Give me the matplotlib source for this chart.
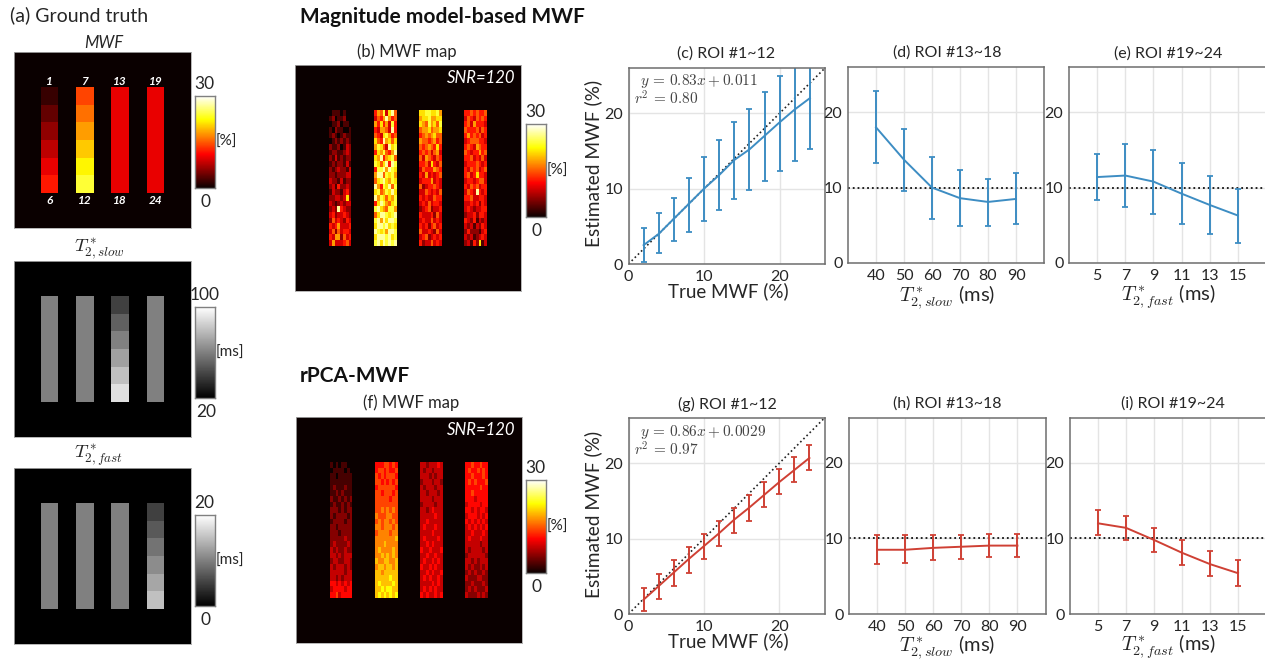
#!/usr/bin/env python3
"""Ground truth maps, MWF maps and ROI plots for the two methods."""
import numpy as np
import matplotlib
matplotlib.use("Agg")
import matplotlib.pyplot as plt

W, H = 1265, 662
BLUE = "#3d8dc3"
RED = "#cf4034"
GRAY = "#6e6e6e"
TXT = "#262626"

plt.rcParams.update({"font.family": ["Lato", "DejaVu Sans"], "mathtext.fontset": "cm",
                     "font.size": 10.5, "text.color": TXT})

# ground truth, one list per column of phantom (top to bottom)
GT_MWF = [[2, 4, 6, 8, 10, 12], [14, 16, 18, 20, 22, 24],
          [10, 10, 10, 10, 10, 10], [10, 10, 10, 10, 10, 10]]
GT_SLOW = [[60] * 6, [60] * 6, [40, 50, 60, 70, 80, 90], [60] * 6]
GT_FAST = [[10] * 6, [10] * 6, [10] * 6, [5, 7, 9, 11, 13, 15]]
ROI_TOP = ["1", "7", "13", "19"]
ROI_BOTTOM = ["6", "12", "18", "24"]

# estimated maps read by eye, digits scaled to MWF in est_image
MAP_B = [
    ["01110100", "12011200", "01120110", "10211001", "12101211", "01212121",
     "21120132", "12211232", "21312122", "12122131", "21232213", "22122233",
     "32213122", "23142232", "13221342", "22332372", "32123233", "23294322",
     "34233432", "25343243", "43463334", "35253443", "43662534", "36333453"],
    ["46583795", "35469645", "64746384", "43665394", "54378645", "75496757",
     "68753978", "47685469", "76946785", "87579498", "48896987", "69958786",
     "57897687", "96487958", "78568797", "96875768", "47986578", "89765886",
     "57998789", "89697998", "79989787", "98786998", "79998978", "89798989"],
    ["77887786", "67786677", "76586758", "56675667", "45656755", "65545645",
     "54565474", "45453563", "53654354", "44537435", "35444654", "43634345",
     "34446343", "52344543", "33543435", "43433544", "34353443", "23452334",
     "43334253", "34335343", "43424534", "53343253", "34523434", "42335343"],
    ["44545445", "35435454", "45364443", "54445354", "46454534", "34555443",
     "45436544", "54344645", "44534353", "34445434", "43545345", "45347443",
     "34434553", "43545344", "35439434", "44533443", "33434243", "34323344",
     "23342443", "43241323", "32313243", "24222134", "32312343", "23142713"],
]
MAP_F = [
    ["10101100", "01111010", "11011111", "11111111", "12111211", "11212111",
     "21121212", "12112121", "22212122", "21222212", "12222122", "22122222",
     "22212222", "22222322", "23222232", "32322322", "33232333", "23322332",
     "32333232", "33333233", "33232333", "44343434", "34444344", "44534444"],
    ["44455454", "45545445", "54545554", "55454545", "45555554", "55455545",
     "55555455", "55555555", "55656565", "65556655", "56566565", "66566656",
     "56666566", "66666667", "66676666", "67666676", "66767676", "76677667",
     "67767767", "77677777", "77777877", "78777787", "77878877", "78787878"],
    ["33233343", "32332333", "33323233", "23332332", "32333233", "33233323",
     "33332333", "23333233", "33234333", "33333433", "33433333", "34333433",
     "33334333", "34333343", "33434333", "43343334", "33433433", "34334343",
     "43343433", "33434334", "34343343", "33334343", "34343433", "43433434"],
    ["44544544", "45445454", "44544454", "45454445", "44444544", "44544444",
     "44434444", "34444344", "44343443", "34443434", "43434343", "34343434",
     "33433343", "34333433", "33333233", "32333323", "23333332", "33232333",
     "32322323", "23232232", "32223322", "22322232", "23232223", "32223232"],
]

# ROI plots
TRUE_MWF = [2, 4, 6, 8, 10, 12, 14, 16, 18, 20, 22, 24]
T2_SLOW = [40, 50, 60, 70, 80, 90]
T2_FAST = [5, 7, 9, 11, 13, 15]

C_MEAN = [2.5, 4, 6, 8, 10, 11.8, 13.8, 15.2, 17, 18.8, 20.5, 22]
C_LOW = [0.2, 1.5, 3, 4.3, 5.7, 7.1, 8.6, 9.8, 11, 12.4, 13.7, 15.2]
C_UP = [4.8, 6.8, 8.8, 11.4, 14.2, 16.5, 18.8, 20.5, 22.8, 25, 27.3, 28.8]
D_MEAN = [18, 13.7, 10, 8.6, 8.1, 8.5]
D_LOW = [13.3, 9.5, 5.8, 4.9, 4.9, 5.2]
D_UP = [22.8, 17.8, 14, 12.3, 11.2, 11.9]
E_MEAN = [11.4, 11.6, 10.8, 9.2, 7.7, 6.3]
E_LOW = [8.3, 7.4, 6.5, 5.2, 3.9, 2.7]
E_UP = [14.4, 15.8, 15, 13.3, 11.5, 9.8]

G_MEAN = [1.9, 3.7, 5.5, 7.3, 9, 10.7, 12.5, 14.1, 15.8, 17.5, 19.1, 20.7]
G_LOW = [0.4, 2, 3.7, 5.5, 7.3, 9, 10.8, 12.4, 14.2, 15.9, 17.5, 19.1]
G_UP = [3.4, 5.3, 7.1, 8.9, 10.6, 12.3, 14.1, 15.8, 17.5, 19.2, 20.8, 22.4]
H_MEAN = [8.5, 8.5, 8.75, 8.9, 9.05, 9.05]
H_LOW = [6.6, 6.7, 7.1, 7.3, 7.5, 7.5]
H_UP = [10.5, 10.4, 10.5, 10.5, 10.6, 10.6]
I_MEAN = [12, 11.4, 9.8, 8.1, 6.6, 5.4]
I_LOW = [10.4, 9.8, 8.2, 6.5, 5, 3.7]
I_UP = [13.7, 13, 11.4, 9.8, 8.3, 7.1]

fig = plt.figure(figsize=(W / 100, H / 100), dpi=100)


def px_axes(x0, y0, x1, y1):
    return fig.add_axes([x0 / W, 1 - y1 / H, (x1 - x0) / W, (y1 - y0) / H])


def label(x, y, s, **kw):
    kw.setdefault("ha", "center")
    kw.setdefault("va", "center")
    fig.text(x / W, 1 - y / H, s, **kw)


def gt_image(cols):
    # phantom is 100x100: strips 10 wide, every 20, ROIs 10 high
    img = np.zeros((100, 100))
    for c, vals in enumerate(cols):
        img[20:80, 15 + 20 * c:25 + 20 * c] = np.repeat(vals, 10)[:, None]
    return img


def est_image(strips, scale):
    # same layout on an 80x80 grid, digits are 2 rows high
    img = np.zeros((80, 80))
    for c, rows in enumerate(strips):
        vals = np.array([[int(ch) * scale for ch in r] for r in rows], dtype=float)
        img[16:64, 12 + 16 * c:20 + 16 * c] = np.repeat(vals, 2, axis=0)
    return img


def show_map(box, img, cmap, vmin, vmax):
    ax = px_axes(*box)
    ax.imshow(img, cmap=cmap, vmin=vmin, vmax=vmax, aspect="auto", interpolation="nearest")
    ax.set_xticks([])
    ax.set_yticks([])
    for s in ax.spines.values():
        s.set_color("#aaaaaa")
        s.set_linewidth(0.6)
    return ax


def colorbar(box, cmap, top, bottom, unit):
    ax = show_map(box, np.linspace(1, 0, 256)[:, None], cmap, 0, 1)
    for s in ax.spines.values():
        s.set_color("#808080")
        s.set_linewidth(1)
    x0, y0, x1, y1 = box
    xc = (x0 + x1) / 2
    label(xc, y0 - 12, top, fontsize=12.5)
    label(xc + 1, y1 + 14, bottom, fontsize=12.5)
    label(x1 + 1, (y0 + y1) / 2, unit, ha="left", fontsize=11)


def roi_plot(box, x, mean, low, up, color, xlim, xticks, diag=False):
    ax = px_axes(*box)
    mean, low, up = np.array(mean), np.array(low), np.array(up)
    ax.grid(True, color="#e4e4e4", lw=1)
    ax.set_axisbelow(True)
    if diag:
        ax.plot([0, 26], [0, 26], color="#222222", lw=1.2, ls=":")
    else:
        ax.axhline(10, color="#111111", lw=1.3, ls=":")
    ax.errorbar(x, mean, yerr=[mean - low, up - mean], color=color, lw=1.4,
                elinewidth=1.4, capsize=2, capthick=1.3)
    ax.set_xlim(*xlim)
    ax.set_ylim(0, 26)
    ax.set_xticks(xticks)
    ax.set_yticks([0, 10, 20])
    ax.tick_params(length=0, labelsize=11.5, pad=4, labelcolor=TXT)
    for s in ax.spines.values():
        s.set_color(GRAY)
        s.set_linewidth(1.1)
    return ax


# left column
ax = show_map((14, 52, 191, 228), gt_image(GT_MWF), "hot", 0, 30)
for c, (a, b) in enumerate(zip(ROI_TOP, ROI_BOTTOM)):
    ax.text(19.5 + 20 * c, 16.5, a, color="white", fontsize=8.5, style="italic",
            weight="bold", ha="center", va="center")
    ax.text(19.5 + 20 * c, 84, b, color="white", fontsize=8.5, style="italic",
            weight="bold", ha="center", va="center")
show_map((14, 261, 191, 437), gt_image(GT_SLOW), "gray", 20, 100)
show_map((14, 468, 191, 644), gt_image(GT_FAST), "gray", 0, 20)
colorbar((194.5, 96, 214.5, 188), "hot", "30", "0", "[%]")
colorbar((195, 307, 215, 398), "gray", "100", "20", "[ms]")
colorbar((194.5, 515, 214.5, 606), "gray", "20", "0", "[ms]")
label(10, 15, "(a) Ground truth", ha="left", fontsize=14)
label(104, 43, "MWF", style="italic", fontsize=12)
label(99, 249, r"$T^*_{2,slow}$", fontsize=13.5)
label(99, 456, r"$T^*_{2,fast}$", fontsize=13.5)

# estimated maps
show_map((295, 65, 521, 291), est_image(MAP_B, 3), "hot", 0, 30)
show_map((296, 417, 522, 643), est_image(MAP_F, 2.8), "hot", 0, 30)
colorbar((525.5, 124, 546, 217), "hot", "30", "0", "[%]")
colorbar((525.5, 480, 546, 573), "hot", "30", "0", "[%]")
label(300, 17, "Magnitude model-based MWF", ha="left", weight="bold", fontsize=15, color="#111111")
label(300, 376, "rPCA-MWF", ha="left", weight="bold", fontsize=15, color="#111111")
label(407, 52, "(b) MWF map", fontsize=12)
label(411, 403, "(f) MWF map", fontsize=12)
label(515, 78, "SNR=120", ha="right", color="white", style="italic", fontsize=12)
label(515, 430, "SNR=120", ha="right", color="white", style="italic", fontsize=12)

# ROI plots
roi_plot((628.5, 68, 825, 264), TRUE_MWF, C_MEAN, C_LOW, C_UP, BLUE, (0, 26), [0, 10, 20], diag=True)
roi_plot((848, 67, 1044, 263), T2_SLOW, D_MEAN, D_LOW, D_UP, BLUE, (30, 100), T2_SLOW)
roi_plot((1069, 67, 1266, 263), T2_FAST, E_MEAN, E_LOW, E_UP, BLUE, (3, 17), T2_FAST)
roi_plot((628.5, 418, 824.5, 614), TRUE_MWF, G_MEAN, G_LOW, G_UP, RED, (0, 26), [0, 10, 20], diag=True)
roi_plot((849, 417.5, 1045.5, 614), T2_SLOW, H_MEAN, H_LOW, H_UP, RED, (30, 100), T2_SLOW)
roi_plot((1070, 417.5, 1266, 614), T2_FAST, I_MEAN, I_LOW, I_UP, RED, (3, 17), T2_FAST)

label(726, 54, "(c) ROI #1~12", fontsize=11.5)
label(947, 53, "(d) ROI #13~18", fontsize=11.5)
label(1168, 54, "(e) ROI #19~24", fontsize=11.5)
label(727, 404, "(g) ROI #1~12", fontsize=11.5)
label(947, 404, "(h) ROI #13~18", fontsize=11.5)
label(1173, 404, "(i) ROI #19~24", fontsize=11.5)

for y, ycen in ((291, 163), (641, 514)):
    label(728, y, "True MWF (%)", fontsize=13.5)
    label(593, ycen, "Estimated MWF (%)", rotation=90, fontsize=13.8)
for y in (297, 647):
    label(947, y, r"$T^*_{2,slow}$ (ms)", fontsize=14.5)
    label(1168, y, r"$T^*_{2,fast}$ (ms)", fontsize=14.5)

label(640, 81, r"$y\,=\,0.83x+0.011$", ha="left", fontsize=11, color="#444444")
label(634, 99, r"$r^2\,=\,0.80$", ha="left", fontsize=11, color="#444444")
label(640, 432, r"$y\,=\,0.86x+0.0029$", ha="left", fontsize=11, color="#444444")
label(634, 450, r"$r^2\,=\,0.97$", ha="left", fontsize=11, color="#444444")

fig.savefig("out.png", dpi=100)
